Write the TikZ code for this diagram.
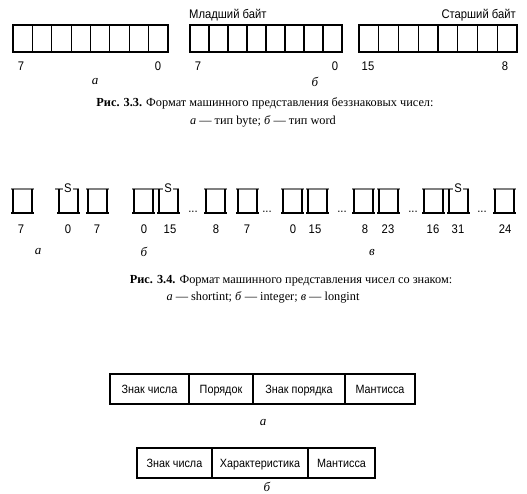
\documentclass[tikz,border=0pt]{standalone}
\usepackage{fontspec}
\setmainfont{Liberation Serif}
\setsansfont{Liberation Sans}
\newfontfamily\lblfont[FakeStretch=0.9]{Liberation Sans}
\begin{document}
\begin{tikzpicture}[x=1pt,y=-1pt,
  lbl/.style={font=\lblfont\fontsize{12.5}{14}\selectfont, inner sep=0pt},
  ital/.style={font=\itshape\fontsize{13}{15}\selectfont, inner sep=0pt},
  capt/.style={font=\fontsize{12.3}{14}\selectfont, inner sep=0pt},
  fld/.style={font=\lblfont\fontsize{12}{14}\selectfont, inner sep=0pt, anchor=base},
  regline/.style={line width=1.1pt},
  topline/.style={line width=1.5pt, gray},
  rcell/.pic={
    \draw[topline] (-2,0) -- (21,0);
    \draw[regline] (0,0) -- (0,24) (19,0) -- (19,24);
    \draw[regline] (-2,24) -- (21,24);
  },
  scell/.pic={
    \draw[topline] (-4,0) -- (4,0) (14,0) -- (20,0);
    \draw[regline] (0,0) -- (0,24) (19,0) -- (19,24);
    \draw[regline] (-2,24) -- (21,24);
    \node[lbl] at (9,-1) {S};
  }]
\useasboundingbox (0,0) rectangle (527,493);
\fill[white] (0,0) rectangle (527,493);

% ---------- Fig 3.3 ----------
\foreach \xa/\xb in {13/168, 190/342, 359/517}{
  \draw[regline] (\xa,25) rectangle (\xb,52);
  \foreach \i in {1,...,7}{
    \draw[regline] ({\xa+\i*(\xb-\xa)/8},25) -- ({\xa+\i*(\xb-\xa)/8},52);
  }
}
\node[lbl, anchor=west] (lo) at (189,15) {Младший байт};
\node[lbl, anchor=east] (hi) at (516,15) {Старший байт};
\node[lbl] (t7a) at (21,66) {7};
\node[lbl] (t0a) at (158,66) {0};
\node[lbl] (t7b) at (198,66) {7};
\node[lbl] (t0b) at (335,66) {0};
\node[lbl] (t15b) at (368,66) {15};
\node[lbl] (t8b) at (505,66) {8};
\node[ital] (ta) at (95,82) {а};
\node[ital] (tb) at (315,82) {б};
\node[capt] (c33a) at (265,103) {\textbf{Рис. 3.3.} Формат машинного представления беззнаковых чисел:};
\node[capt] (c33b) at (263,121) {\textit{а} — тип byte; \textit{б} — тип word};

% ---------- Fig 3.4 ----------
\pic at (13,189) {rcell};
\pic at (59,189) {scell};
\pic at (88,189) {rcell};
\pic at (134,189) {rcell};
\pic at (159,189) {scell};
\pic at (206,189) {rcell};
\pic at (238,189) {rcell};
\pic at (283,189) {rcell};
\pic at (308,189) {rcell};
\pic at (354,189) {rcell};
\pic at (379,189) {rcell};
\pic at (424,189) {rcell};
\pic at (449,189) {scell};
\pic at (495,189) {rcell};
\foreach \x [count=\k] in {193,267,342,413,482}{
  \node[lbl, anchor=base] (dots\k) at (\x,212) {...};
}
\foreach \x/\t [count=\k] in {21/7,68/0,97/7,144/0,170/15,216/8,247/7,293/0,315/15,365/8,388/23,433/16,458/31,505/24}{
  \node[lbl] (m\k) at (\x,229) {\t};
}
\node[ital] (ma) at (38,252) {а};
\node[ital] (mb) at (144,252) {б};
\node[ital] (mv) at (372,252) {в};
\node[capt] (c34a) at (291,281) {\textbf{Рис. 3.4.} Формат машинного представления чисел со знаком:};
\node[capt] (c34b) at (263,297) {\textit{а} — shortint; \textit{б} — integer; \textit{в} — longint};

% ---------- Floating point formats ----------
\draw[regline] (110,374) rectangle (415,404);
\draw[regline] (189,374) -- (189,404) (253,374) -- (253,404) (345,374) -- (345,404);
\node[fld] (f1) at (149.5,393) {Знак числа};
\node[fld] (f2) at (221,393) {Порядок};
\node[fld] (f3) at (299,393) {Знак порядка};
\node[fld] (f4) at (380,393) {Мантисса};
\node[ital] (fa) at (263,422) {а};
\draw[regline] (137,448) rectangle (375,478);
\draw[regline] (212,448) -- (212,478) (308,448) -- (308,478);
\node[fld] (g1) at (174.5,467) {Знак числа};
\node[fld] (g2) at (260,467) {Характеристика};
\node[fld] (g3) at (341.5,467) {Мантисса};
\node[ital] (fb) at (267,487) {б};
\end{tikzpicture}
\end{document}
